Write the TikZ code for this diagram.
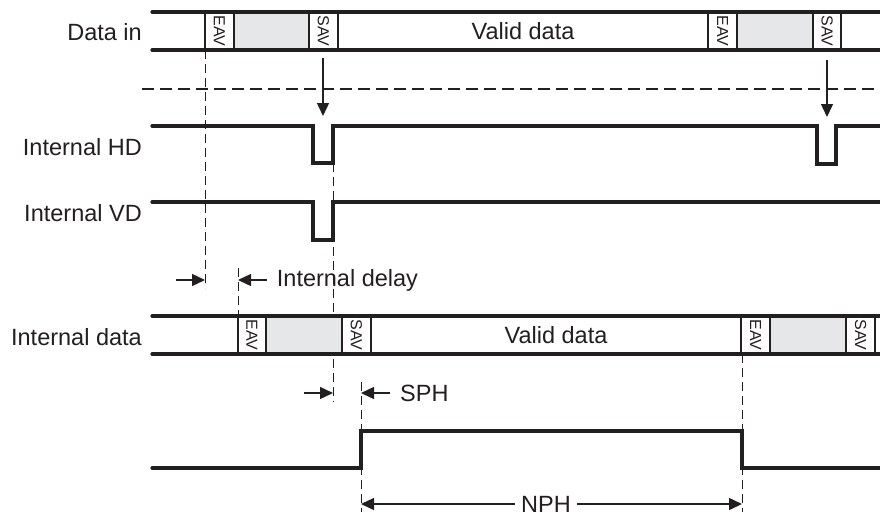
\documentclass[tikz,border=0pt]{standalone}
\usepackage{fontspec}
\setmainfont{Liberation Sans}
\usetikzlibrary{arrows.meta}
\definecolor{ink}{HTML}{231F20}
\definecolor{gapfill}{HTML}{E6E7E8}
\tikzset{
  busline/.style={draw=ink, line width=3.2pt, line cap=round},
  sepline/.style={draw=ink, line width=2.2pt},
  sigline/.style={draw=ink, line width=3.2pt, line cap=round, line join=miter},
  guide/.style={draw=ink, line width=1pt, dash pattern=on 9pt off 5pt},
  splitline/.style={draw=ink, line width=2.6pt, dash pattern=on 12pt off 6pt},
  dimarrow/.style={draw=ink, line width=1.4pt, -{Triangle[length=13pt,width=12pt]}},
  lbl/.style={font=\fontsize{23.5}{28}\selectfont, text=ink, inner sep=0pt},
  celltext/.style={font=\fontsize{16}{18}\selectfont, text=ink, rotate=-90, inner sep=0pt},
}
\begin{document}
\begin{tikzpicture}[x=1pt,y=-1pt]
\useasboundingbox[fill=white] (0,0) rectangle (880,517);

% guides (behind everything)
\draw[guide] (205,50) -- (205,288);
\draw[guide] (238,268) -- (238,316);
\draw[guide] (333,163) -- (333,402);
\draw[guide] (361,382) -- (361,512);
\draw[guide] (742,354) -- (742,512);

% ---- Data in bus
\fill[gapfill] (234,12) rectangle (309,50);
\fill[gapfill] (737,12) rectangle (813,50);
\foreach \x in {205,234,309,338,708,737,813,841}
  \draw[sepline] (\x,12) -- (\x,50);
\draw[busline] (152,12) -- (882,12);
\draw[busline] (152,50) -- (882,50);
\node[celltext] (eav1) at (219.5,31) {EAV};
\node[celltext] (sav1) at (323.5,31) {SAV};
\node[celltext] (eav2) at (722.5,31) {EAV};
\node[celltext] (sav2) at (827,31) {SAV};
\node[lbl, anchor=base] (valid1) at (523,39.5) {Valid data};
\node[lbl, anchor=base east] (ldatain) at (142,40.7) {Data in};

% split line
\draw[splitline] (142,89) -- (882,89);

% arrows from SAV to HD
\coordinate (hdtip1) at (323,116);
\coordinate (hdtip2) at (827,117);
\draw[dimarrow] (323,58) -- (hdtip1);
\draw[dimarrow] (827,60) -- (hdtip2);

% ---- Internal HD
\draw[sigline] (152,126) -- (313,126) -- (313,163) -- (333,163) -- (333,126)
  -- (817,126) -- (817,164) -- (836,164) -- (836,126) -- (882,126);
\node[lbl, anchor=base east] (lhd) at (142,155) {Internal HD};

% ---- Internal VD
\draw[sigline] (152,202) -- (313,202) -- (313,240) -- (333,240) -- (333,202) -- (882,202);
\node[lbl, anchor=base east] (lvd) at (142,221.7) {Internal VD};

% ---- Internal delay
\coordinate (d1) at (205,280);
\coordinate (d2) at (238,280);
\draw[dimarrow] (176,280) -- (d1);
\draw[dimarrow] (267,280) -- (d2);
\node[lbl, anchor=base west] (ldelay) at (276.7,286.5) {Internal delay};

% ---- Internal data bus
\fill[gapfill] (266,316) rectangle (342,354);
\fill[gapfill] (770,316) rectangle (846,354);
\foreach \x in {238,266,342,371,741,770,846,875}
  \draw[sepline] (\x,316) -- (\x,354);
\draw[busline] (152,316) -- (882,316);
\draw[busline] (152,354) -- (882,354);
\node[celltext] (eav3) at (252,335) {EAV};
\node[celltext] (sav3) at (356.5,335) {SAV};
\node[celltext] (eav4) at (755.5,335) {EAV};
\node[celltext] (sav4) at (860.5,335) {SAV};
\node[lbl, anchor=base] (valid2) at (556,343.5) {Valid data};
\node[lbl, anchor=base east] (lidata) at (142,345) {Internal data};

% ---- SPH
\coordinate (s1) at (333,393);
\coordinate (s2) at (361,393);
\draw[dimarrow] (304,393) -- (s1);
\draw[dimarrow] (390,393) -- (s2);
\node[lbl, anchor=base west] (lsph) at (400,401.5) {SPH};

% ---- output pulse
\draw[sigline] (152,468) -- (361,468) -- (361,431) -- (742,431) -- (742,468) -- (882,468);

% ---- NPH
\node[lbl, anchor=base, inner xsep=6pt] (lnph) at (546,512) {NPH};
\coordinate (n1) at (361,504);
\coordinate (n2) at (742,504);
\draw[dimarrow] (lnph.west |- n1) -- (n1);
\draw[dimarrow] (lnph.east |- n2) -- (n2);
\end{tikzpicture}
\end{document}
